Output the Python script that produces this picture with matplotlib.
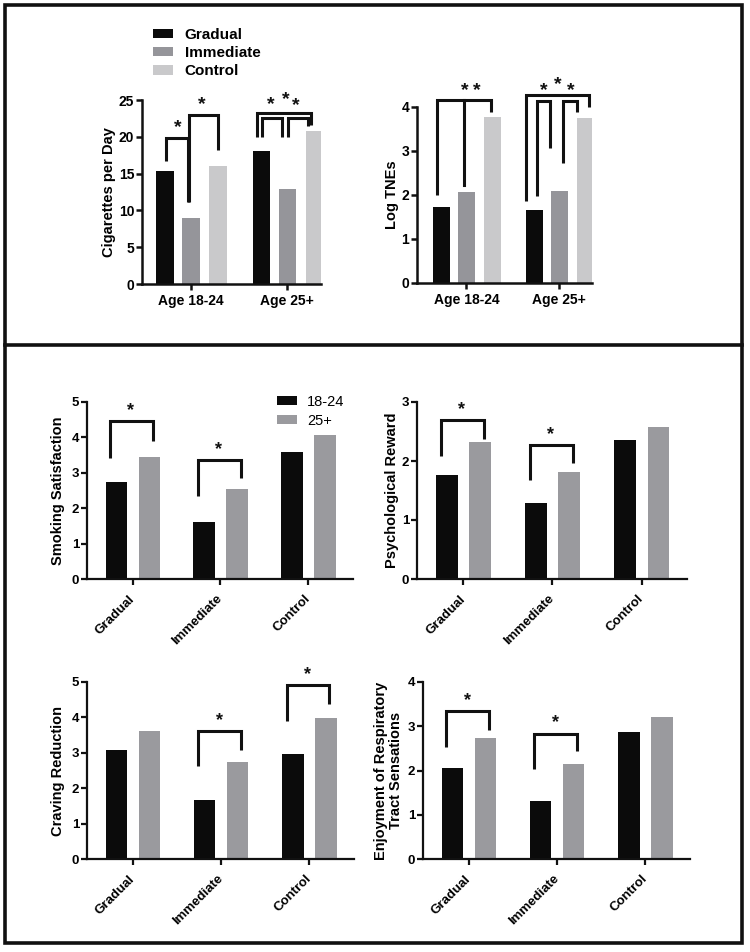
import matplotlib
matplotlib.use("Agg")
import matplotlib.pyplot as plt
from matplotlib.patches import Rectangle, Patch
from matplotlib.lines import Line2D

plt.rcParams['font.family'] = ['Liberation Sans', 'DejaVu Sans']

# ---------------- data ----------------
age_groups = ["Age 18-24", "Age 25+"]
top_series = ["Gradual", "Immediate", "Control"]
cigs_per_day = {"Gradual": [15.3, 18.1], "Immediate": [9.0, 12.9], "Control": [16.0, 20.8]}
log_tnes = {"Gradual": [1.72, 1.67], "Immediate": [2.06, 2.08], "Control": [3.77, 3.76]}

conditions = ["Gradual", "Immediate", "Control"]
bottom_series = ["18-24", "25+"]
smoking_satisfaction = {"18-24": [2.74, 1.62, 3.58], "25+": [3.46, 2.54, 4.07]}
psych_reward = {"18-24": [1.76, 1.29, 2.36], "25+": [2.32, 1.81, 2.57]}
craving_reduction = {"18-24": [3.09, 1.68, 2.96], "25+": [3.62, 2.74, 3.98]}
enjoyment_rts = {"18-24": [2.05, 1.32, 2.88], "25+": [2.73, 2.14, 3.21]}

top_colors = {"Gradual": "#0b0b0b", "Immediate": "#95959a", "Control": "#c9c9cb"}
bottom_colors = {"18-24": "#0b0b0b", "25+": "#9a9a9e"}

W, H = 750, 952
fig = plt.figure(figsize=(W / 100, H / 100), dpi=100)
fig.patch.set_facecolor("white")


def add_ax(x0, x1, ytop, ybot):
    return fig.add_axes([x0 / W, 1 - ybot / H, (x1 - x0) / W, (ybot - ytop) / H])


def style(ax, ylim, yticks, lw=1.8, fs=10):
    for s in ["top", "right"]:
        ax.spines[s].set_visible(False)
    for s in ["left", "bottom"]:
        ax.spines[s].set_linewidth(lw)
        ax.spines[s].set_color("#111111")
    ax.set_ylim(*ylim)
    ax.set_yticks(yticks)
    ax.tick_params(axis="both", direction="out", length=4, width=lw, color="#111111")
    ax.tick_params(axis="y", pad=1.5)
    for lab in ax.get_yticklabels():
        lab.set_fontweight("bold")
        lab.set_fontsize(fs)
    ax.set_facecolor("none")


def bracket(ax, xl, xr, yl, ytop, yr, lw=2.2):
    ax.plot([xl, xl, xr, xr], [yl, ytop, ytop, yr], color="#111111", lw=lw,
            clip_on=False, solid_joinstyle="miter", solid_capstyle="butt")


def star(ax, x, y, fs=14):
    ax.text(x, y, "*", ha="center", va="center", fontsize=fs, fontweight="bold",
            color="#111111", clip_on=False)


# ---------------- top-left ----------------
off = [-0.27, 0.0, 0.28]
ax1 = add_ax(142, 321, 100, 284)
for i, s in enumerate(top_series):
    ax1.bar([g + off[i] for g in range(len(age_groups))], cigs_per_day[s], width=0.18,
            color=top_colors[s], label=s)
ax1.set_xlim(-0.51, 1.35)
style(ax1, (0, 25), [0, 5, 10, 15, 20, 25])
ax1.set_xticks(range(len(age_groups)))
ax1.set_xticklabels(age_groups, fontsize=10, fontweight="bold")
ax1.set_ylabel("Cigarettes per Day", fontsize=10.5, fontweight="bold")
ax1.yaxis.set_label_coords(-0.145, 0.5)
bracket(ax1, -0.26, -0.03, 16.7, 19.9, 11.2)
bracket(ax1, -0.02, 0.28, 11.2, 22.9, 18.2)
star(ax1, -0.135, 21.3)
star(ax1, 0.115, 24.4)
bracket(ax1, 1 - 0.31, 1 + 0.25, 20.0, 23.2, 21.6)
bracket(ax1, 1 - 0.26, 1 - 0.055, 20.0, 22.6, 20.0)
bracket(ax1, 1 + 0.005, 1 + 0.21, 20.0, 22.6, 21.5)
star(ax1, 1 - 0.17, 24.4)
star(ax1, 1 - 0.02, 25.0)
star(ax1, 1 + 0.09, 24.2)

handles = [Patch(facecolor=top_colors[s], edgecolor="none") for s in top_series]
fig.legend(handles, top_series, loc="upper left", bbox_to_anchor=(139 / W, 1 - 14 / H),
           frameon=False, handlelength=1.35, handleheight=0.6,
           labelspacing=0.28, handletextpad=0.75, prop={"weight": "bold", "size": 11})

# ---------------- top-right ----------------
ax2 = add_ax(417, 592, 107, 283)
for i, s in enumerate(top_series):
    ax2.bar([g + off[i] for g in range(len(age_groups))], log_tnes[s], width=0.18,
            color=top_colors[s])
ax2.set_xlim(-0.53, 1.35)
style(ax2, (0, 4), [0, 1, 2, 3, 4])
ax2.set_xticks(range(len(age_groups)))
ax2.set_xticklabels(age_groups, fontsize=10, fontweight="bold")
ax2.set_ylabel("Log TNEs", fontsize=10.5, fontweight="bold")
ax2.yaxis.set_label_coords(-0.103, 0.5)
bracket(ax2, -0.315, 0.26, 2.0, 4.17, 3.89)
ax2.plot([-0.03, -0.03], [2.23, 4.17], color="#111111", lw=2.2, clip_on=False)
star(ax2, -0.02, 4.38)
star(ax2, 0.115, 4.38)
bracket(ax2, 1 - 0.355, 1 + 0.315, 1.87, 4.28, 4.0)
bracket(ax2, 1 - 0.24, 1 - 0.097, 1.98, 4.13, 3.06)
bracket(ax2, 1 + 0.036, 1 + 0.19, 2.72, 4.13, 3.89)
star(ax2, 1 - 0.17, 4.38)
star(ax2, 1 - 0.02, 4.52)
star(ax2, 1 + 0.12, 4.38)

# ---------------- bottom panels ----------------
boff = [-0.185, 0.19]


def bottom_panel(x0, x1, ytop, ybot, data, ylim, yticks, ylabel, brackets, label_x,
                 legend=False):
    ax = add_ax(x0, x1, ytop, ybot)
    for i, s in enumerate(bottom_series):
        ax.bar([c + boff[i] for c in range(len(conditions))], data[s], width=0.245,
               color=bottom_colors[s], label=s)
    ax.set_xlim(-0.52, 2.51)
    style(ax, ylim, yticks, lw=1.6, fs=9.5)
    ax.set_xticks(range(len(conditions)))
    ax.set_xticklabels(conditions, rotation=45, ha="right", va="center",
                       rotation_mode="anchor", fontsize=9.5, fontweight="bold")
    ax.tick_params(axis="x", pad=9)
    ax.set_ylabel(ylabel, fontsize=10.5, fontweight="bold", linespacing=1.05)
    ax.yaxis.set_label_coords(label_x, 0.5)
    for (ci, yl, yt, yr, ys) in brackets:
        bracket(ax, ci - 0.255, ci + 0.23, yl, yt, yr, lw=2.2)
        star(ax, ci - 0.02, ys, fs=13)
    if legend:
        ax.legend(loc="upper left", bbox_to_anchor=(0.665, 1.115), frameon=False,
                  fontsize=10.5, handlelength=1.35, handleheight=0.55, labelspacing=0.35,
                  handletextpad=0.7)
    return ax


bottom_panel(87, 353, 402, 579, smoking_satisfaction, (0, 5), [0, 1, 2, 3, 4, 5],
             "Smoking Satisfaction",
             [(0, 3.42, 4.47, 3.89, 4.76), (1, 2.35, 3.35, 2.85, 3.65)], -0.083, legend=True)
bottom_panel(417, 687, 402, 579, psych_reward, (0, 3), [0, 1, 2, 3],
             "Psychological Reward",
             [(0, 2.09, 2.70, 2.38, 2.87), (1, 1.68, 2.27, 1.97, 2.45)], -0.067)
bottom_panel(87, 354, 682, 859, craving_reduction, (0, 5), [0, 1, 2, 3, 4, 5],
             "Craving Reduction",
             [(1, 2.62, 3.61, 3.09, 3.92), (2, 3.91, 4.91, 4.39, 5.2)], -0.083)
bottom_panel(423, 690, 682, 859, enjoyment_rts, (0, 4), [0, 1, 2, 3, 4],
             "Enjoyment of Respiratory\nTract Sensations",
             [(0, 2.52, 3.34, 2.91, 3.58), (1, 2.04, 2.83, 2.43, 3.09)], -0.075)

# ---------------- frames ----------------
lw_frame = 2.6
fig.add_artist(Rectangle((5 / W, 1 - 943 / H), (742 - 5) / W, (943 - 5) / H,
                         transform=fig.transFigure, fill=False, lw=lw_frame,
                         edgecolor="#111111"))
fig.add_artist(Line2D([5 / W, 742 / W], [1 - 345 / H, 1 - 345 / H],
                      transform=fig.transFigure, lw=lw_frame, color="#111111"))

fig.savefig("out.png", dpi=100, facecolor="white")
